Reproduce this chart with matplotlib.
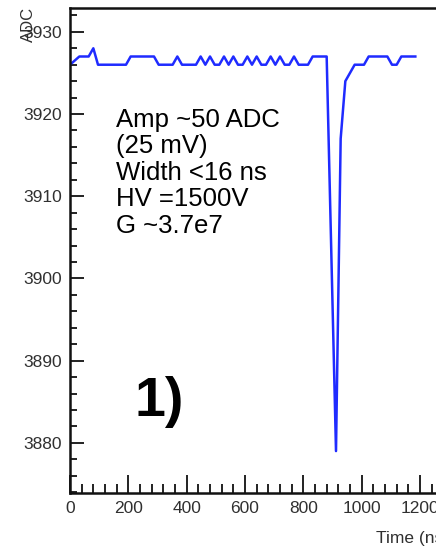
import numpy as np
import matplotlib
matplotlib.use("Agg")
from matplotlib import pyplot as plt
from matplotlib.ticker import MultipleLocator

plt.rcParams['font.family'] = ['Liberation Sans', 'DejaVu Sans']

# waveform, one sample every 16 ns
dt_ns = 16
adc = [3926, 3926.5, 3927, 3927, 3927, 3928, 3926, 3926, 3926, 3926,
       3926, 3926, 3926, 3927, 3927, 3927, 3927, 3927, 3927, 3926,
       3926, 3926, 3926, 3927, 3926, 3926, 3926, 3926, 3927, 3926,
       3927, 3926, 3926, 3927, 3926, 3927, 3926, 3926, 3927, 3926,
       3927, 3926, 3926, 3927, 3926, 3927, 3926, 3926, 3927, 3926,
       3926, 3926, 3927, 3927, 3927, 3927, 3903, 3879, 3917, 3924,
       3925, 3926, 3926, 3926, 3927, 3927, 3927, 3927, 3927, 3926,
       3926, 3927, 3927, 3927, 3927]
time_ns = np.arange(len(adc)) * dt_ns

info_lines = ["Amp ~50 ADC", "(25 mV)", "Width <16 ns", "HV =1500V", "G ~3.7e7"]
panel_tag = "1)"

W, H = 436, 547
fig = plt.figure(figsize=(W / 100, H / 100), dpi=100)
# axes run off the right edge of the picture (cropped like the original)
ax = fig.add_axes([70 / W, 1 - 493 / H, 385 / W, 485 / H])

ax.plot(time_ns, adc, color='#1f2bff', lw=1.8)

ax.set_xlim(0, 1320)
ax.set_ylim(3873.9, 3932.9)
ax.xaxis.set_major_locator(MultipleLocator(200))
ax.xaxis.set_minor_locator(MultipleLocator(40))
ax.yaxis.set_major_locator(MultipleLocator(10))
ax.yaxis.set_minor_locator(MultipleLocator(2))
ax.tick_params(axis='both', which='both', direction='in', width=1.4,
               labelsize=12.5, labelcolor='#303030', colors='#222222', pad=6)
ax.tick_params(axis='x', which='major', length=13)
ax.tick_params(axis='x', which='minor', length=6.5)
ax.tick_params(axis='y', which='major', length=10)
ax.tick_params(axis='y', which='minor', length=5)
for s in ax.spines.values():
    s.set_linewidth(1.8)
    s.set_color('#111111')

fig.text(376 / W, 1 - 538 / H, "Time (ns)", ha='left', va='center',
         fontsize=12.5, color='#303030')
fig.text(28 / W, 1 - 7 / H, "ADC", ha='center', va='top', rotation=90,
         fontsize=12, color='#303030')

y0 = 120
for i, line in enumerate(info_lines):
    fig.text(116 / W, 1 - (y0 + 26.5 * i) / H, line, ha='left', va='center',
             fontsize=18.5, color='black')

fig.text(135 / W, 1 - 402 / H, panel_tag, ha='left', va='center',
         fontsize=40, fontweight='bold', color='black')

fig.savefig("out.png", dpi=100)
